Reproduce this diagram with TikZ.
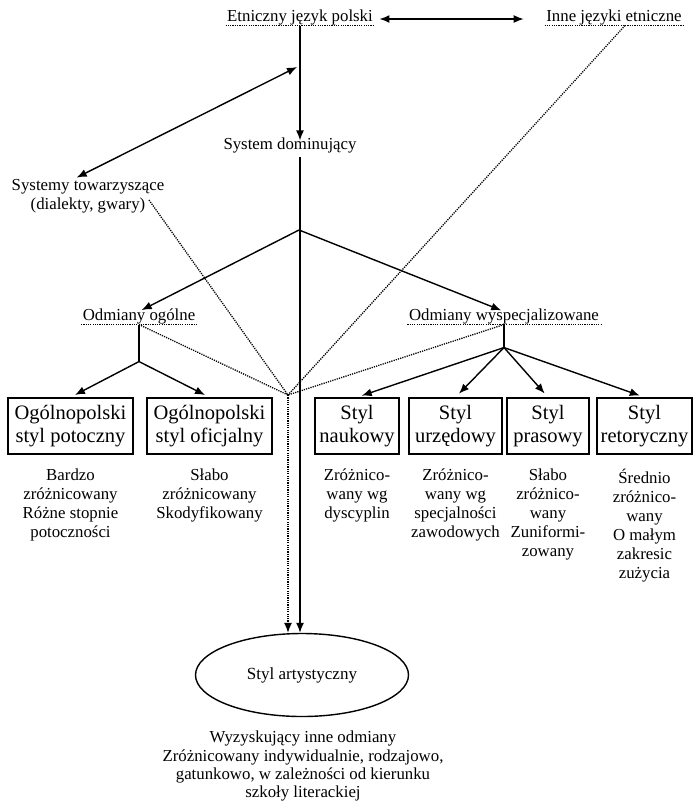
\documentclass[tikz,border=0pt]{standalone}
\usepackage{fontspec}
\setmainfont{Liberation Serif}
\usetikzlibrary{arrows.meta,shapes.geometric}
\begin{document}
\begin{tikzpicture}[x=1pt,y=-1pt,
  lbl/.style={font=\fontsize{16.8}{19}\selectfont, inner sep=1.5pt, text height=0.72em, text depth=0.25em},
  desc/.style={font=\fontsize{16.8}{19}\selectfont, align=center, inner sep=0pt, anchor=north},
  stylebox/.style={draw, line width=1.5pt, font=\fontsize{20.5}{23}\selectfont, align=center, minimum height=56pt, inner sep=0pt},
  link/.style={line width=1.4pt},
  arr/.style={link, -{Latex[length=10pt,width=8pt]}},
  dbl/.style={link, {Latex[length=10pt,width=8pt]}-{Latex[length=10pt,width=8pt]}},
  dots/.style={line width=1.3pt, dash pattern=on 1.2pt off 1.1pt},
  dotarr/.style={dots, -{Latex[length=10pt,width=8pt]}},
]
\useasboundingbox (0,0) rectangle (694,804);

% top level
\node[lbl] (etn) at (300,19) {Etniczny język polski};
\node[lbl] (inne) at (614,19) {Inne języki etniczne};
\node[lbl] (sysdom) at (290,147) {System dominujący};
\node[desc, anchor=center] (systow) at (88,196) {Systemy towarzyszące\\(dialekty, gwary)};
\node[lbl] (ogol) at (139,318) {Odmiany ogólne};
\node[lbl] (wysp) at (504,318) {Odmiany wyspecjalizowane};

\foreach \n in {etn,inne,ogol,wysp}
  \draw[dots] (\n.south west) -- (\n.south east);

% styles
\node[stylebox, minimum width=125pt] (b1) at (70.5,426) {Ogólnopolski\\styl potoczny};
\node[stylebox, minimum width=125pt] (b2) at (209.5,426) {Ogólnopolski\\styl oficjalny};
\node[stylebox, minimum width=84pt] (b3) at (357,426) {Styl\\naukowy};
\node[stylebox, minimum width=93pt] (b4) at (455.5,426) {Styl\\urzędowy};
\node[stylebox, minimum width=82pt] (b5) at (548,426) {Styl\\prasowy};
\node[stylebox, minimum width=95pt] (b6) at (644.5,426) {Styl\\retoryczny};

\node[desc] (d1) at ([yshift=-14pt]b1.south) {Bardzo\\zróżnicowany\\Różne stopnie\\potoczności};
\node[desc] (d2) at ([yshift=-14pt]b2.south) {Słabo\\zróżnicowany\\Skodyfikowany};
\node[desc] (d3) at ([yshift=-14pt]b3.south) {Zróżnico-\\wany wg\\dyscyplin};
\node[desc] (d4) at ([yshift=-14pt]b4.south) {Zróżnico-\\wany wg\\specjalności\\zawodowych};
\node[desc] (d5) at ([yshift=-14pt]b5.south) {Słabo\\zróżnico-\\wany\\Zuniformi-\\zowany};
\node[desc] (d6) at ([yshift=-14pt]b6.south) {Średnio\\zróżnico-\\wany\\O małym\\zakresic\\zużycia};

\node[draw, ellipse, link, minimum width=213pt, minimum height=83pt, inner sep=0pt,
      font=\fontsize{17}{20}\selectfont] (art) at (302,675) {Styl artystyczny};
\node[desc, font=\fontsize{16.8}{18.3}\selectfont] (artd) at (303,731) {Wyzyskujący inne odmiany\\Zróżnicowany indywidualnie, rodzajowo,\\gatunkowo, w zależności od kierunku\\szkoły literackiej};

% junctions
\coordinate (dj) at (297,67);
\coordinate (br) at (299,230);
\coordinate (cv) at (288,395);
\coordinate (gw) at (149,200);
\path (ogol.south) ++(0,37) coordinate (bl);
\path (wysp.south) ++(0,23) coordinate (bw);

% solid connectors
\draw[dbl] ([xshift=5pt]etn.east) -- ([xshift=-21pt]inne.west);
\draw[arr] (etn.south) -- (etn.south |- sysdom.north);
\draw[dbl, shorten >=3pt] (dj) -- ([xshift=-14pt]systow.north);
\draw[arr] ([yshift=-3pt]etn.south |- sysdom.south) -- (etn.south |- art.north);
\draw[arr, shorten >=3pt] (br) -- (ogol.north);
\draw[arr, shorten >=3pt] (br) -- (wysp.north);
\draw[link] (ogol.south) -- (bl);
\draw[link] (wysp.south) -- (bw);
\foreach \b in {b1,b2}
  \draw[arr, shorten >=5pt] (bl) -- (\b.north);
\foreach \b in {b3,b4,b5,b6}
  \draw[arr, shorten >=5pt] (bw) -- (\b.north);

% dotted influences
\draw[dots] (gw) -- (cv);
\draw[dots] (ogol.south) -- (cv);
\draw[dots] (wysp.south) -- (cv);
\draw[dots] ([xshift=11pt]inne.south) -- (cv);
\draw[dotarr] (cv) -- (cv |- art.north);
\end{tikzpicture}
\end{document}
